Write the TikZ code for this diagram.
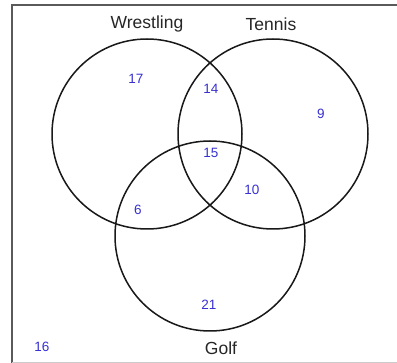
\documentclass[tikz,border=0pt]{standalone}
\usepackage{fontspec}
\setmainfont{Liberation Sans}
\definecolor{numblue}{RGB}{55,48,210}
\definecolor{framegray}{RGB}{90,90,90}
\begin{document}
\begin{tikzpicture}[x=1pt,y=-1pt,
  setcircle/.style={circle,draw=black!90,line width=1.5pt,minimum size=190pt,inner sep=0pt},
  setlabel/.style={font=\fontsize{17.5}{17.5}\selectfont,text=black!85,inner sep=0pt},
  count/.style={font=\fontsize{13.5}{13.5}\selectfont,text=numblue,inner sep=0pt}]
\useasboundingbox (0,0) rectangle (397,363);
\fill[white] (0,0) rectangle (397,363);
\draw[framegray,line width=1.4pt] (12,380) -- (12,5) -- (410,5);
\draw[black!20,line width=0.8pt] (12,362.5) -- (410,362.5);
\node[setcircle] (W) at (147,134) {};
\node[setcircle] (T) at (273,134) {};
\node[setcircle] (G) at (210,236) {};
\node[setlabel] (Wl) at (147,24) {Wrestling};
\node[setlabel] (Tl) at (271,24) {Tennis};
\node[setlabel] (Gl) at (221,348) {Golf};
\node[count] (n17) at (136,79) {17};
\node[count] (n14) at (211,89) {14};
\node[count] (n9) at (321,114) {9};
\node[count] (n15) at (211,153) {15};
\node[count] (n10) at (252,190) {10};
\node[count] (n6) at (138,210) {6};
\node[count] (n21) at (209,305) {21};
\node[count] (n16) at (42,347) {16};
\end{tikzpicture}
\end{document}
